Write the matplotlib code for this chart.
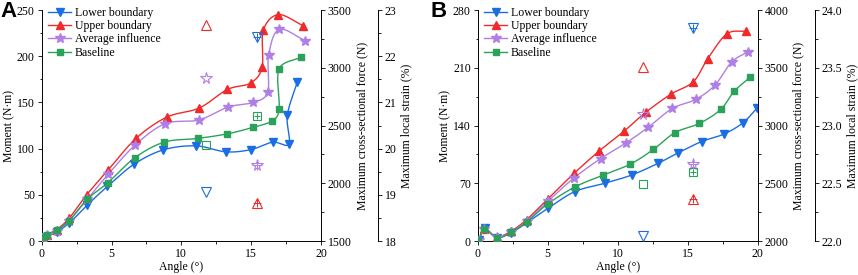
import numpy as np
import matplotlib
matplotlib.use("Agg")
import matplotlib.pyplot as plt
from matplotlib.ticker import MultipleLocator, FormatStrFormatter

plt.rcParams['font.family'] = ['Liberation Serif', 'DejaVu Serif']
plt.rcParams['font.size'] = 8.5

# ---------------- Panel A data ----------------
a_low_x = [0.3, 1.07, 1.98, 3.27, 4.7, 6.6, 8.7, 11.03, 13.2, 15.0, 16.54, 17.7, 17.59, 18.3]
a_low_y = [4, 10, 19.5, 39, 59, 83, 98.6, 103, 96.5, 99, 107, 105, 136, 172]
a_up_x = [0.07, 0.38, 1.07, 1.96, 3.22, 4.77, 6.75, 8.95, 11.29, 13.3, 14.96, 15.78, 15.87, 16.95, 18.73]
a_up_y = [3.6, 6.9, 12.3, 24.6, 50, 77, 111, 134, 144, 164, 171, 188, 228, 245, 233]
a_avg_x = [0.07, 0.38, 1.07, 1.97, 3.25, 4.75, 6.7, 8.85, 11.25, 13.36, 15.13, 16.18, 16.25, 17.0, 18.85]
a_avg_y = [3, 6, 11, 22, 45, 72, 104, 127, 131, 145, 150, 161, 201, 229, 217]
a_base_x = [0.07, 0.38, 1.07, 1.97, 3.25, 4.73, 6.66, 8.78, 11.17, 13.3, 15.13, 16.5, 17.0, 17.0, 18.57]
a_base_y = [4, 7, 12, 22, 45, 63, 90, 107, 111, 116, 123, 130, 143, 186, 199]
# open markers -> maximum cross-sectional force (N)
a_force_x = 11.8
a_force = {'low': 1924, 'up': 3372, 'avg': 2908, 'base': 2332}
# crossed markers -> maximum local strain (%)
a_strain_x = 15.4
a_strain = {'low': 22.42, 'up': 18.82, 'avg': 19.64, 'base': 20.7}

# ---------------- Panel B data ----------------
b_low_x = [0.07, 0.5, 1.36, 2.38, 3.5, 5.05, 6.95, 9.07, 11.0, 12.86, 14.33, 16.0, 17.57, 18.93, 19.93]
b_low_y = [0.8, 15.4, 4, 10, 22, 40, 60, 70, 80, 94, 107, 120.6, 129.5, 143, 160.7]
b_up_x = [0.07, 0.48, 1.36, 2.38, 3.5, 5.0, 6.88, 8.67, 10.48, 12.0, 13.8, 15.4, 16.43, 17.79, 19.14]
b_up_y = [1.6, 14.6, 5, 12, 26, 51, 82, 109, 133.5, 156, 178, 193, 221, 251, 254.5]
b_avg_x = [0.07, 0.48, 1.36, 2.38, 3.5, 5.0, 6.88, 8.79, 10.6, 12.19, 13.9, 15.57, 16.95, 18.14, 19.33]
b_avg_y = [0.8, 14.6, 4.5, 11, 24, 48, 76.5, 100, 119, 138, 160.7, 171.6, 189, 217, 229.5]
b_base_x = [0.05, 0.48, 1.36, 2.38, 3.5, 5.0, 6.95, 8.93, 10.88, 12.55, 14.1, 15.83, 17.36, 18.33, 19.45]
b_base_y = [0.8, 14.6, 4.2, 10.5, 23, 45, 65.6, 79.7, 93, 111, 131.5, 142.5, 159.5, 181.7, 198.3]
b_force_x = 11.8
b_force = {'low': 2041, 'up': 3507, 'avg': 3099, 'base': 2491}
b_strain_x = 15.4
b_strain = {'low': 23.84, 'up': 22.36, 'avg': 22.67, 'base': 22.6}

labels = {'low': 'Lower boundary', 'up': 'Upper boundary', 'avg': 'Average influence', 'base': 'Baseline'}
colors = {'low': '#1a6de3', 'up': '#f02a2a', 'avg': '#b07fe6', 'base': '#2aa25a'}
markers = {'low': 'v', 'up': '^', 'avg': '*', 'base': 's'}
msize = {'low': 5.5, 'up': 5.5, 'avg': 7, 'base': 4.5}


def smooth(x, y, xs, ys, n=20):
    """Uniform Catmull-Rom curve through the points (in normalised space)."""
    x = np.asarray(x, float) / xs
    y = np.asarray(y, float) / ys
    P = np.column_stack([x, y])
    P = np.vstack([2 * P[0] - P[1], P, 2 * P[-1] - P[-2]])
    out = []
    t = np.linspace(0, 1, n, endpoint=False)[:, None]
    for i in range(1, len(P) - 2):
        p0, p1, p2, p3 = P[i - 1], P[i], P[i + 1], P[i + 2]
        seg = 0.5 * ((2 * p1) + (-p0 + p2) * t + (2 * p0 - 5 * p1 + 4 * p2 - p3) * t ** 2
                     + (-p0 + 3 * p1 - 3 * p2 + p3) * t ** 3)
        out.append(seg)
    out.append(P[-2][None, :])
    out = np.vstack(out)
    return out[:, 0] * xs, out[:, 1] * ys


def style_axis(a):
    a.tick_params(which='both', direction='out')
    a.tick_params(which='major', length=3, width=0.6, pad=2)
    a.tick_params(which='minor', length=1.8, width=0.6)
    for s in a.spines.values():
        s.set_linewidth(0.7)


def draw_panel(fig, rect, series, ymax, ymajor, yminor, force_lim, force_major, strain_lim,
               strain_major, strain_fmt, fx, force, sx, strain, letter, letter_x):
    ax = fig.add_axes(rect)
    for k in ['low', 'up', 'avg', 'base']:
        x, y = series[k]
        cx, cy = smooth(x, y, 20.0, ymax * 0.82)
        ax.plot(cx, cy, '-', color=colors[k], lw=1.0, zorder=3)
        ax.plot(x, y, linestyle='none', marker=markers[k], ms=msize[k], color=colors[k], mec=colors[k], zorder=4)
        ax.plot([], [], '-', marker=markers[k], ms=msize[k], color=colors[k], lw=1.0, label=labels[k])
    ax.set_xlim(0, 20)
    ax.set_ylim(0, ymax)
    ax.xaxis.set_major_locator(MultipleLocator(5))
    ax.xaxis.set_minor_locator(MultipleLocator(2.5))
    ax.yaxis.set_major_locator(MultipleLocator(ymajor))
    ax.yaxis.set_minor_locator(MultipleLocator(yminor))
    style_axis(ax)
    ax.tick_params(which='both', top=False, right=False)
    ax.spines['top'].set_visible(False)
    ax.spines['right'].set_visible(False)
    ax.set_xlabel('Angle (°)', labelpad=1)
    ax.set_ylabel('Moment (N·m)', labelpad=1)
    ax.legend(loc='upper left', frameon=False, handlelength=2.0, handletextpad=0.3,
              labelspacing=0.12, borderaxespad=0.0, bbox_to_anchor=(0.005, 1.035), fontsize=8.5)

    # force axis
    ax2 = ax.twinx()
    ax2.set_ylim(*force_lim)
    ax2.yaxis.set_major_locator(MultipleLocator(force_major))
    ax2.yaxis.set_minor_locator(MultipleLocator(force_major / 2))
    style_axis(ax2)
    for s in ['top', 'left', 'bottom']:
        ax2.spines[s].set_visible(False)
    ax2.set_ylabel('Maximum cross-sectional force (N)', labelpad=3)
    for k in ['low', 'up', 'avg', 'base']:
        ax2.plot([fx], [force[k]], linestyle='none', marker=markers[k], ms=msize[k] + 1.5,
                 mfc='none', mec=colors[k], mew=0.8, zorder=4)

    # strain axis
    ax3 = ax.twinx()
    ax3.spines['right'].set_position(('axes', 1.203))
    ax3.set_ylim(*strain_lim)
    ax3.yaxis.set_major_locator(MultipleLocator(strain_major))
    ax3.yaxis.set_minor_locator(MultipleLocator(strain_major / 2))
    ax3.yaxis.set_major_formatter(FormatStrFormatter(strain_fmt))
    style_axis(ax3)
    for s in ['top', 'left', 'bottom']:
        ax3.spines[s].set_visible(False)
    ax3.set_ylabel('Maximum local strain (%)', labelpad=3)
    for k in ['low', 'up', 'avg', 'base']:
        ax3.plot([sx], [strain[k]], linestyle='none', marker=markers[k], ms=msize[k] + 1.5,
                 mfc='none', mec=colors[k], mew=0.8, zorder=4)
        ax3.plot([sx], [strain[k]], linestyle='none', marker='+', ms=msize[k] + 0.5,
                 color=colors[k], mew=0.7, zorder=5)
    fig.text(letter_x, 0.995, letter, fontsize=16, fontweight='bold', va='top', ha='left',
             family=['Liberation Sans', 'DejaVu Sans'])
    return ax


fig = plt.figure(figsize=(8.58, 2.75), dpi=100)
draw_panel(fig, [0.0486, 0.1236, 0.3255, 0.84],
           {'low': (a_low_x, a_low_y), 'up': (a_up_x, a_up_y), 'avg': (a_avg_x, a_avg_y),
            'base': (a_base_x, a_base_y)},
           250, 50, 25, (1500, 3500), 500, (18, 23), 1, '%d',
           a_force_x, a_force, a_strain_x, a_strain, 'A', 0.001)
draw_panel(fig, [0.5568, 0.1236, 0.3263, 0.84],
           {'low': (b_low_x, b_low_y), 'up': (b_up_x, b_up_y), 'avg': (b_avg_x, b_avg_y),
            'base': (b_base_x, b_base_y)},
           280, 70, 35, (2000, 4000), 500, (22, 24), 0.5, '%.1f',
           b_force_x, b_force, b_strain_x, b_strain, 'B', 0.5015)
fig.savefig('out.png', dpi=100)
